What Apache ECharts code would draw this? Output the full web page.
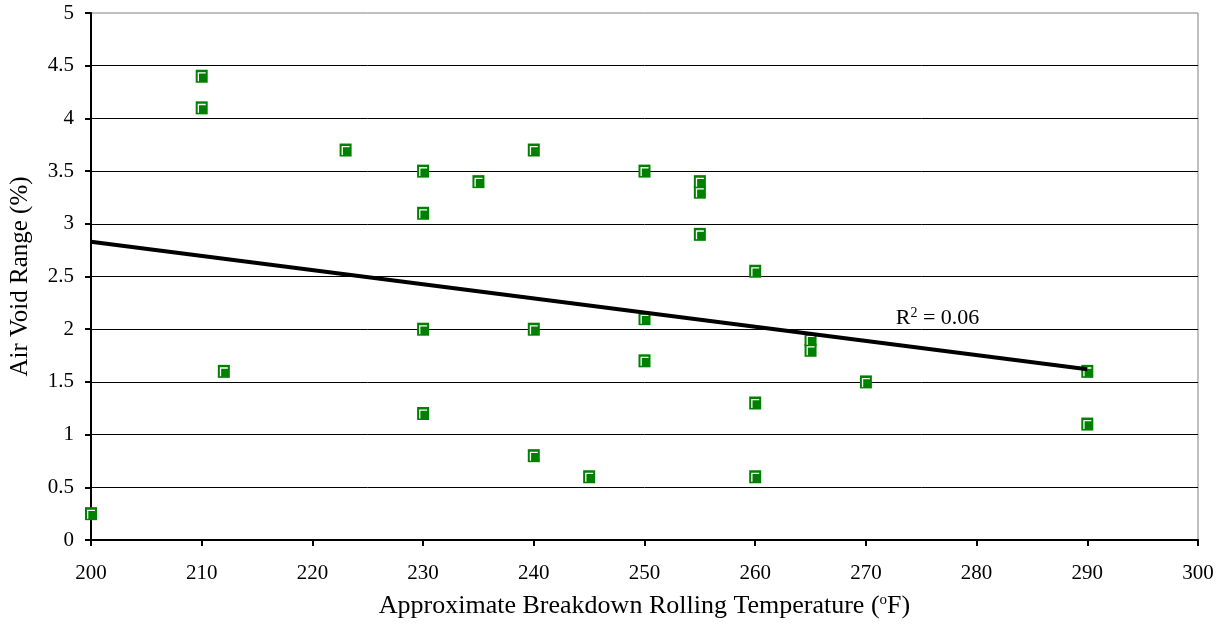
<!DOCTYPE html>
<html>
<head>
<meta charset="utf-8">
<script src="https://cdn.jsdelivr.net/npm/echarts@6/dist/echarts.min.js"></script>
<style>
html,body{margin:0;padding:0;background:#fff;}
#chart{width:1226px;height:628px;}
</style>
</head>
<body>
<div id="chart"></div>
<script>
// Data
var temps = [200, 210, 210, 212, 223, 230, 230, 230, 230, 235, 240, 240, 240, 245, 250, 250, 250, 255, 255, 255, 260, 260, 260, 265, 265, 270, 290, 290];
var airVoids = [0.25, 4.4, 4.1, 1.6, 3.7, 3.5, 3.1, 2.0, 1.2, 3.4, 3.7, 2.0, 0.8, 0.6, 3.5, 2.1, 1.7, 3.4, 3.3, 2.9, 2.55, 1.3, 0.6, 1.9, 1.8, 1.5, 1.6, 1.1];
var trendX = [200, 290];
var trendY = [2.83, 1.62];
var r2Text = 'R{sup|2} = 0.06';
var xTitle = 'Approximate Breakdown Rolling Temperature ({sup|o}F)';
var yTitle = 'Air Void Range (%)';

var points = temps.map(function (t, i) { return [t, airVoids[i]]; });
var trend = trendX.map(function (t, i) { return [t, trendY[i]]; });

var FONT = '"Liberation Serif", "Times New Roman", serif';
var chart = echarts.init(document.getElementById('chart'));
chart.setOption({
  animation: false,
  backgroundColor: '#fff',
  grid: { left: 90, right: 28, top: 13, bottom: 88, show: true, borderColor: '#808080', borderWidth: 1, backgroundColor: 'transparent' },
  xAxis: {
    type: 'value', min: 200, max: 300, interval: 10,
    axisLine: { show: true, onZero: false, lineStyle: { color: '#000', width: 2 } },
    axisTick: { show: true, length: 6, inside: false, lineStyle: { color: '#000', width: 2 } },
    axisLabel: { color: '#000', fontFamily: FONT, fontSize: 21, margin: 23 },
    splitLine: { show: false },
    name: xTitle, nameLocation: 'middle', nameGap: 53,
    nameTextStyle: { color: '#000', fontFamily: FONT, fontSize: 26, rich: { sup: { fontSize: 15, verticalAlign: 'top', padding: [0, 0, 9, 0], fontFamily: FONT, color: '#000' } } }
  },
  yAxis: {
    type: 'value', min: 0, max: 5, interval: 0.5,
    axisLine: { show: true, onZero: false, lineStyle: { color: '#000', width: 2 } },
    axisTick: { show: true, length: 6, lineStyle: { color: '#000', width: 2 } },
    axisLabel: { color: '#000', fontFamily: FONT, fontSize: 21, margin: 17 },
    splitLine: { show: true, showMaxLine: false, showMinLine: false, lineStyle: { color: '#000', width: 1 } },
    name: yTitle, nameLocation: 'middle', nameGap: 58, nameRotate: 90,
    nameTextStyle: { color: '#000', fontFamily: FONT, fontSize: 25 }
  },
  series: [
    {
      type: 'scatter', data: points, symbol: 'rect', symbolSize: [12, 13],
      itemStyle: { color: '#008000', opacity: 1 }, z: 2
    },
    {
      type: 'scatter', data: points, symbol: 'path://M0,0H8V1.3H1.3V9H0Z', symbolSize: [8, 9], symbolOffset: [0, 0.5],
      itemStyle: { color: '#ffffff', opacity: 1 }, z: 3, silent: true
    },
    {
      type: 'line', data: trend, showSymbol: false, symbol: 'none',
      lineStyle: { color: '#000', width: 4 }, z: 4,
      markPoint: {
        symbol: 'circle', symbolSize: 0,
        data: [{ coord: [272.7, 2.1] }],
        label: { show: true, position: 'right', distance: 0, formatter: r2Text, color: '#000', fontFamily: FONT, fontSize: 22,
          rich: { sup: { fontSize: 14, verticalAlign: 'top', padding: [0, 0, 10, 0], fontFamily: FONT, color: '#000' } } }
      }
    }
  ]
});
</script>
</body>
</html>
